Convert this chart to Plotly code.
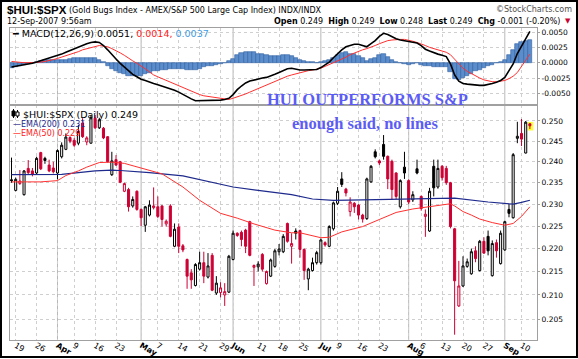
import math
import pandas as pd
import plotly.graph_objects as go

# ---------------- data ----------------
holidays = ["2007-04-06", "2007-05-28", "2007-07-04", "2007-09-03"]
trading_days = [d.strftime("%Y-%m-%d") for d in pd.bdate_range("2007-03-16", "2007-09-12")
                if d.strftime("%Y-%m-%d") not in holidays]

opens = [0.2357,0.2332,0.2348,0.2322,0.2384,0.2378,0.2373,0.2422,0.2408,0.2392,
         0.2385,0.2373,0.2412,0.2430,0.2459,0.2452,0.2445,0.2495,0.2448,0.2445,
         0.2507,0.2483,0.2482,0.2461,0.2369,0.2405,0.2400,0.2330,0.2334,0.2296,
         0.2330,0.2288,0.2252,0.2275,0.2292,0.2294,0.2296,0.2255,0.2296,0.2205,
         0.2248,0.2206,0.2176,0.2147,0.2120,0.2155,0.2169,0.2138,0.2185,0.2104,
         0.2105,0.2100,0.2106,0.2176,0.2234,0.2236,0.2241,0.2260,0.2159,0.2160,
         0.2187,0.2124,0.2140,0.2161,0.2193,0.2193,0.2256,0.2205,0.2239,0.2240,
         0.2198,0.2134,0.2152,0.2169,0.2169,0.2213,0.2205,0.2244,0.2302,0.2359,
         0.2335,0.2283,0.2302,0.2298,0.2275,0.2267,0.2352,0.2424,0.2402,0.2442,
         0.2413,0.2401,0.2373,0.2294,0.2387,0.2355,0.2310,0.2383,0.2318,0.2272,
         0.2239,0.2389,0.2340,0.2389,0.2384,0.2350,0.2244,0.2077,0.2119,0.2161,
         0.2145,0.2195,0.2152,0.2216,0.2227,0.2141,0.2213,0.2167,0.2197,0.2288,
         0.2269,0.2457,0.2469,0.2421,0.2493]
highs = [0.2410,0.2362,0.2380,0.2380,0.2404,0.2385,0.2412,0.2424,0.2412,0.2405,
         0.2400,0.2430,0.2447,0.2469,0.2462,0.2458,0.2490,0.2507,0.2462,0.2515,
         0.2515,0.2508,0.2485,0.2462,0.2424,0.2416,0.2402,0.2350,0.2338,0.2318,
         0.2332,0.2290,0.2296,0.2309,0.2339,0.2318,0.2298,0.2265,0.2300,0.2256,
         0.2256,0.2210,0.2178,0.2155,0.2168,0.2193,0.2193,0.2190,0.2190,0.2140,
         0.2127,0.2125,0.2186,0.2240,0.2236,0.2240,0.2244,0.2262,0.2165,0.2172,
         0.2190,0.2152,0.2178,0.2199,0.2210,0.2232,0.2258,0.2234,0.2245,0.2242,
         0.2200,0.2158,0.2180,0.2195,0.2222,0.2216,0.2252,0.2306,0.2340,0.2375,
         0.2338,0.2316,0.2305,0.2300,0.2278,0.2362,0.2392,0.2430,0.2405,0.2465,
         0.2415,0.2405,0.2375,0.2358,0.2424,0.2358,0.2330,0.2405,0.2320,0.2288,
         0.2338,0.2405,0.2405,0.2392,0.2390,0.2352,0.2246,0.2173,0.2183,0.2178,
         0.2200,0.2205,0.2219,0.2225,0.2240,0.2218,0.2220,0.2240,0.2262,0.2300,
         0.2421,0.2498,0.2505,0.2500,0.2494]
lows = [0.2350,0.2330,0.2345,0.2320,0.2370,0.2365,0.2370,0.2380,0.2395,0.2375,
        0.2372,0.2358,0.2408,0.2428,0.2445,0.2436,0.2440,0.2458,0.2440,0.2444,
        0.2480,0.2480,0.2455,0.2398,0.2366,0.2390,0.2349,0.2328,0.2283,0.2292,
        0.2285,0.2250,0.2237,0.2272,0.2288,0.2268,0.2249,0.2249,0.2225,0.2203,
        0.2190,0.2192,0.2113,0.2113,0.2118,0.2152,0.2125,0.2135,0.2108,0.2100,
        0.2095,0.2077,0.2104,0.2174,0.2226,0.2205,0.2190,0.2183,0.2119,0.2150,
        0.2150,0.2122,0.2138,0.2158,0.2185,0.2190,0.2213,0.2167,0.2220,0.2180,
        0.2132,0.2110,0.2150,0.2165,0.2165,0.2204,0.2203,0.2240,0.2298,0.2340,
        0.2318,0.2272,0.2280,0.2265,0.2258,0.2264,0.2350,0.2408,0.2392,0.2405,
        0.2335,0.2310,0.2312,0.2290,0.2359,0.2300,0.2305,0.2370,0.2285,0.2226,
        0.2237,0.2318,0.2336,0.2355,0.2345,0.2245,0.2018,0.2075,0.2117,0.2158,
        0.2143,0.2170,0.2150,0.2188,0.2185,0.2139,0.2180,0.2165,0.2195,0.2270,
        0.2267,0.2445,0.2438,0.2420,0.2480]
closes = [0.2355,0.2358,0.2354,0.2378,0.2374,0.2370,0.2408,0.2383,0.2403,0.2378,
          0.2376,0.2427,0.2440,0.2460,0.2450,0.2440,0.2474,0.2461,0.2458,0.2508,
          0.2483,0.2503,0.2458,0.2400,0.2402,0.2392,0.2351,0.2348,0.2294,0.2311,
          0.2288,0.2269,0.2294,0.2298,0.2296,0.2272,0.2265,0.2261,0.2227,0.2243,
          0.2205,0.2197,0.2140,0.2132,0.2165,0.2169,0.2140,0.2162,0.2110,0.2125,
          0.2115,0.2107,0.2183,0.2234,0.2229,0.2220,0.2205,0.2185,0.2163,0.2166,
          0.2155,0.2150,0.2175,0.2195,0.2199,0.2227,0.2216,0.2211,0.2234,0.2198,
          0.2152,0.2155,0.2169,0.2191,0.2219,0.2208,0.2249,0.2303,0.2330,0.2346,
          0.2326,0.2305,0.2294,0.2275,0.2266,0.2359,0.2389,0.2412,0.2397,0.2413,
          0.2359,0.2334,0.2318,0.2355,0.2373,0.2305,0.2322,0.2373,0.2290,0.2277,
          0.2330,0.2338,0.2384,0.2362,0.2350,0.2249,0.2130,0.2119,0.2162,0.2171,
          0.2193,0.2178,0.2216,0.2190,0.2195,0.2211,0.2195,0.2234,0.2260,0.2279,
          0.2417,0.2462,0.2455,0.2497,0.2488]

macd_line = [-0.0007,-0.0006,-0.0005,-0.0003,-0.0002,-0.0001,0.0001,0.0003,0.0006,0.0008,
             0.0010,0.0012,0.0014,0.0017,0.0020,0.0023,0.0026,0.0029,0.0031,0.0033,
             0.0034,0.0033,0.0028,0.0021,0.0013,0.0006,-0.0001,-0.0007,-0.0014,-0.0019,
             -0.0023,-0.0027,-0.0029,-0.0032,-0.0034,-0.0036,-0.0038,-0.0041,-0.0043,-0.0045,
             -0.0048,-0.0052,-0.0056,-0.0059,-0.0062,-0.0062,-0.0061,-0.0061,-0.0062,-0.0061,
             -0.0061,-0.0060,-0.0058,-0.0052,-0.0044,-0.0038,-0.0033,-0.0030,-0.0028,-0.0027,
             -0.0025,-0.0024,-0.0022,-0.0019,-0.0016,-0.0013,-0.0010,-0.0009,-0.0011,-0.0012,
             -0.0012,-0.0012,-0.0011,-0.0011,-0.0008,-0.0004,0.0001,0.0008,0.0015,0.0021,
             0.0026,0.0028,0.0030,0.0030,0.0028,0.0026,0.0031,0.0036,0.0043,0.0048,
             0.0046,0.0042,0.0039,0.0037,0.0036,0.0034,0.0033,0.0032,0.0028,0.0022,
             0.0019,0.0016,0.0014,0.0012,0.0010,-0.0002,-0.0020,-0.0030,-0.0034,-0.0035,
             -0.0036,-0.0036,-0.0037,-0.0037,-0.0036,-0.0034,-0.0032,-0.0029,-0.0024,-0.0013,
             -0.0002,0.0015,0.0027,0.0040,0.0051]
signal_line = [0.0002,0.0001,0.0000,0.0000,0.0000,0.0000,0.0000,0.0001,0.0002,0.0003,
               0.0005,0.0007,0.0009,0.0012,0.0014,0.0016,0.0018,0.0021,0.0023,0.0025,
               0.0027,0.0028,0.0027,0.0026,0.0023,0.0020,0.0016,0.0012,0.0007,0.0003,
               -0.0001,-0.0005,-0.0010,-0.0015,-0.0020,-0.0023,-0.0026,-0.0029,-0.0032,-0.0035,
               -0.0038,-0.0041,-0.0044,-0.0047,-0.0050,-0.0052,-0.0054,-0.0055,-0.0057,-0.0058,
               -0.0059,-0.0060,-0.0060,-0.0058,-0.0056,-0.0054,-0.0051,-0.0048,-0.0045,-0.0042,
               -0.0039,-0.0036,-0.0033,-0.0030,-0.0027,-0.0025,-0.0022,-0.0020,-0.0018,-0.0016,
               -0.0015,-0.0013,-0.0012,-0.0011,-0.0009,-0.0006,-0.0003,0.0000,0.0002,0.0005,
               0.0009,0.0013,0.0016,0.0019,0.0021,0.0023,0.0025,0.0028,0.0031,0.0034,
               0.0036,0.0037,0.0038,0.0038,0.0038,0.0037,0.0035,0.0033,0.0031,0.0028,
               0.0025,0.0023,0.0021,0.0019,0.0017,0.0013,0.0006,-0.0002,-0.0009,-0.0014,
               -0.0018,-0.0022,-0.0025,-0.0028,-0.0030,-0.0031,-0.0031,-0.0030,-0.0029,-0.0026,
               -0.0022,-0.0016,-0.0007,0.0004,0.0014]

ema200_dates = ["2007-03-16","2007-04-03","2007-04-16","2007-04-20","2007-04-24","2007-05-03",
                "2007-05-15","2007-05-23","2007-06-01","2007-06-11","2007-06-21","2007-06-28",
                "2007-07-06","2007-07-17","2007-07-27","2007-08-08","2007-08-16","2007-08-28",
                "2007-09-06","2007-09-10","2007-09-12"]
ema200_values = [0.2369,0.2370,0.2378,0.2380,0.2379,0.2374,0.2366,0.2353,0.2340,0.2332,0.2322,
                 0.2312,0.2309,0.2310,0.2312,0.2314,0.2314,0.2305,0.2300,0.2304,0.2309]

ema50_dates = ["2007-03-16","2007-03-27","2007-04-02","2007-04-04","2007-04-10","2007-04-12",
               "2007-04-17","2007-04-20","2007-04-25","2007-05-01","2007-05-08","2007-05-15",
               "2007-05-21","2007-05-29","2007-06-04","2007-06-08","2007-06-15","2007-06-21",
               "2007-06-25","2007-07-02","2007-07-05","2007-07-10","2007-07-17","2007-07-23",
               "2007-07-27","2007-08-02","2007-08-08","2007-08-15","2007-08-16","2007-08-20",
               "2007-08-22","2007-08-24","2007-08-29","2007-09-04","2007-09-06","2007-09-10",
               "2007-09-12"]
ema50_values = [0.2352,0.2352,0.2355,0.2367,0.2378,0.2387,0.2398,0.2399,0.2396,0.2385,0.2371,
                0.2340,0.2309,0.2279,0.2268,0.2255,0.2241,0.2235,0.2235,0.2224,0.2225,0.2237,
                0.2249,0.2265,0.2281,0.2289,0.2295,0.2301,0.2296,0.2283,0.2275,0.2266,0.2258,
                0.2252,0.2256,0.2272,0.2294]

tick_dates = ["2007-03-19","2007-03-26","2007-04-02","2007-04-09","2007-04-16","2007-04-23",
              "2007-05-01","2007-05-07","2007-05-14","2007-05-21","2007-05-29","2007-06-01",
              "2007-06-11","2007-06-18","2007-06-25","2007-07-02","2007-07-09","2007-07-16",
              "2007-07-23","2007-08-01","2007-08-06","2007-08-13","2007-08-20","2007-08-27",
              "2007-09-04","2007-09-10"]
tick_labels = ["19","26","<b>Apr</b>","9","16","23","<b>May</b>","7","14","21","29","<b>Jun</b>",
               "11","18","25","<b>Jul</b>","9","16","23","<b>Aug</b>","6","13","20","27",
               "<b>Sep</b>","10"]
month_start_dates = ["2007-04-02","2007-05-01","2007-06-01","2007-07-02","2007-08-01","2007-09-04"]

price_ticks = [0.205,0.210,0.215,0.220,0.225,0.230,0.235,0.240,0.245,0.250]
price_tick_labels = ["0.205","0.210","0.215","0.220","0.225","0.230","0.235","0.240","0.245","0.250"]
macd_ticks = [-0.005,-0.0025,0.0,0.0025,0.005]
macd_tick_labels = ["-0.0050","-0.0025","0.0000","0.0025","0.0050"]

# ---------------- figure ----------------
W, H = 578, 359
ML, MR, MT, MB = 10, 41, 28, 19
PW, PH = W - ML - MR, H - MT - MB
def fx(p): return (p - ML) / PW
def fy(p): return (H - MB - p) / PH
split = fy(105)

n = len(trading_days)
days = list(range(n))
pos = {d: i for i, d in enumerate(trading_days)}
black_days = [i for i in days if i == 0 or closes[i] >= closes[i - 1]]
red_days = [i for i in days if i not in black_days]
def sub(a, ds): return [a[i] for i in ds]

RED = "#cc0033"
GRID = "#cfcfcf"
FONT = "DejaVu Sans"

fig = go.Figure()
hist = [m - s for m, s in zip(macd_line, signal_line)]
fig.add_trace(go.Bar(x=days, y=hist, xaxis="x2", yaxis="y2",
                     marker=dict(color="#5b8ccc", line=dict(color="#2f5f9f", width=0.6)),
                     hoverinfo="skip"))
fig.add_trace(go.Scatter(x=days, y=signal_line, xaxis="x2", yaxis="y2", mode="lines",
                         line=dict(color="#ff3030", width=1), hoverinfo="skip"))
fig.add_trace(go.Scatter(x=days, y=macd_line, xaxis="x2", yaxis="y2", mode="lines",
                         line=dict(color="black", width=1.6), hoverinfo="skip"))

for ds, col in ((black_days, "black"), (red_days, RED)):
    fig.add_trace(go.Candlestick(
        x=ds, open=sub(opens, ds), high=sub(highs, ds), low=sub(lows, ds), close=sub(closes, ds),
        increasing=dict(line=dict(color=col, width=1), fillcolor="white"),
        decreasing=dict(line=dict(color=col, width=1), fillcolor=col),
        whiskerwidth=0, hoverinfo="skip"))

fig.add_trace(go.Scatter(x=[pos[d] for d in ema200_dates], y=ema200_values, mode="lines",
                         line=dict(color="#1e2a8c", width=1.2), hoverinfo="skip"))
fig.add_trace(go.Scatter(x=[pos[d] for d in ema50_dates], y=ema50_values, mode="lines",
                         line=dict(color="#ff3030", width=1), hoverinfo="skip"))

tickvals = [pos[d] for d in tick_dates]
xr = [-0.36, 125.7]
axis_common = dict(showgrid=True, gridcolor=GRID, griddash="dot", gridwidth=1, zeroline=False,
                   showline=True, linecolor="#a0a0a0", linewidth=1, mirror=True, automargin=False)
tf = dict(family=FONT, size=7.5, color="black")

fig.update_layout(
    template="none",
    width=W, height=H, margin=dict(l=ML, r=MR, t=MT, b=MB, pad=0),
    paper_bgcolor="white", plot_bgcolor="white", showlegend=False, bargap=0.0,
    xaxis=dict(domain=[0, 1], anchor="y", range=xr, tickvals=tickvals, ticktext=tick_labels,
               ticks="", ticklabelstandoff=-3, tickfont=dict(family=FONT, size=8, color="black"),
               rangeslider=dict(visible=False), **axis_common),
    yaxis=dict(domain=[0, split], anchor="x", type="log",
               range=[math.log10(0.20073), math.log10(0.25404)], side="right",
               tickvals=price_ticks, ticktext=price_tick_labels, ticks="outside", ticklen=2,
               tickcolor="#a0a0a0", tickfont=tf, **axis_common),
    xaxis2=dict(domain=[0, 1], anchor="y2", range=xr, tickvals=tickvals, showticklabels=False,
                ticks="", **axis_common),
    yaxis2=dict(domain=[split, 1], anchor="x2", range=[-0.0069, 0.00566], side="right",
                tickvals=macd_ticks, ticktext=macd_tick_labels, ticks="outside", ticklen=2,
                tickcolor="#a0a0a0", tickfont=tf, **axis_common),
)

shapes = []
for d in month_start_dates:
    shapes.append(dict(type="line", xref="x", yref="paper", x0=pos[d], x1=pos[d], y0=0, y1=1,
                       line=dict(color="#b8b8b8", width=1), layer="below"))
last = n - 1
shapes.append(dict(type="rect", xref="x", yref="y", x0=last - 0.5, x1=last + 0.8,
                   y0=lows[last] * 0.9985, y1=highs[last] * 1.0015,
                   fillcolor="#ffff33", line=dict(width=0), layer="below"))
# tiny candle icon in the price legend
shapes.append(dict(type="line", xref="paper", yref="paper", x0=fx(13.5), x1=fx(13.5), y0=fy(118), y1=fy(109),
                   line=dict(color="black", width=1)))
shapes.append(dict(type="rect", xref="paper", yref="paper", x0=fx(12), x1=fx(15), y0=fy(116), y1=fy(111),
                   line=dict(color="black", width=1), fillcolor="black"))
shapes.append(dict(type="line", xref="paper", yref="paper", x0=fx(17.5), x1=fx(17.5), y0=fy(118), y1=fy(110),
                   line=dict(color="black", width=1)))
shapes.append(dict(type="rect", xref="paper", yref="paper", x0=fx(16), x1=fx(19), y0=fy(116), y1=fy(112),
                   line=dict(color="black", width=1), fillcolor="white"))
shapes.append(dict(type="rect", xref="paper", yref="paper", x0=fx(1), x1=fx(577), y0=fy(357), y1=fy(1),
                   line=dict(color="black", width=2), fillcolor="rgba(0,0,0,0)", layer="above"))
fig.update_layout(shapes=shapes)

def ann(text, x, y, size=8, color="black", xanchor="left", family=FONT):
    fig.add_annotation(text=text, x=fx(x), y=fy(y), xref="paper", yref="paper", showarrow=False,
                       xanchor=xanchor, yanchor="middle", font=dict(family=family, size=size, color=color))

ann("<b>$HUI:$SPX</b>", 5, 10, size=11.5, family="Liberation Sans")
ann("(Gold Bugs Index - AMEX/S&P 500 Large Cap Index) INDX/INDX", 67, 11, size=8)
ann("©StockCharts.com", 574, 10, size=8, color="#505050", xanchor="right")
ann("12-Sep-2007 9:56am", 5, 21, size=8)
ann("<b>Open</b> 0.249  <b>High</b> 0.249  <b>Low</b> 0.248  <b>Last</b> 0.249  <b>Chg</b> -0.001 (-0.20%)",
    562, 21, size=8, xanchor="right")
ann("▼", 563, 21, size=7, color=RED)
ann("━ MACD(12,26,9) 0.0051, <span style='color:#ff2020'>0.0014,</span> "
    "<span style='color:#3d9be0'>0.0037</span>", 10, 33, size=9.5)
ann("$HUI:$SPX (Daily) 0.249", 21, 114, size=9.5)
ann("—EMA(200) 0.231", 11, 124, size=8, color="#1e2a8c")
ann("—EMA(50) 0.229", 11, 133, size=8, color="#ff2020")
ann("<b>HUI OUTPERFORMS S&P</b>", 367, 100, size=16.5, color="#5c5cf5", xanchor="center",
    family="Liberation Serif")
ann("<b>enough said, no lines</b>", 365, 123, size=16.5, color="#5c5cf5", xanchor="center",
    family="Liberation Serif")

fig.write_html("out.html", config={"displayModeBar": False},
               post_script="document.body.style.margin='0px';document.body.style.padding='0px';")
